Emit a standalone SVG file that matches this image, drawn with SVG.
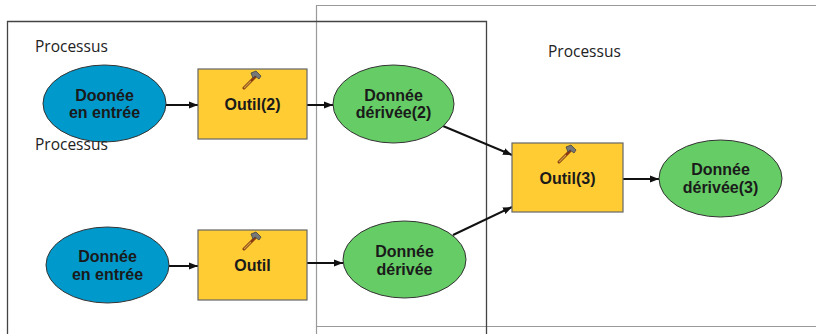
<svg xmlns="http://www.w3.org/2000/svg" width="816" height="334" viewBox="0 0 816 334">
<style>
.frame{fill:none}
.lbl{font-family:"Open Sans","Noto Sans",sans-serif;font-size:15.5px;fill:#222}
.t{font-family:"Liberation Sans",Arial,sans-serif;font-weight:bold;font-size:16px;fill:#1a1a1a;text-anchor:middle}
.in{fill:#0099CC;stroke:#333;stroke-width:1}
.out{fill:#66CC66;stroke:#333;stroke-width:1}
.tool{fill:#FFCC33;stroke:#666;stroke-width:1.2}
.c{stroke:#111;stroke-width:2;fill:none;marker-end:url(#ah)}
</style>
<defs>
<marker id="ah" viewBox="0 0 10 10" refX="10" refY="5" markerWidth="4.5" markerHeight="4.5" markerUnits="strokeWidth" orient="auto">
<path d="M0,1 L10,5 L0,9 z" fill="#111"/>
</marker>
<g id="hammer">
<line x1="-8" y1="8" x2="3" y2="-3" stroke="#8a3a10" stroke-width="3" stroke-linecap="round"/>
<line x1="-8" y1="8" x2="-1" y2="1" stroke="#c8a040" stroke-width="1.2"/>
<path d="M-1,-7 L4,-9 L9,-4 L7,-1 L3,-4 L1,-2 Z" fill="#777" stroke="#444" stroke-width="0.8"/>
</g>
</defs>
<rect width="816" height="334" fill="#fff"/>
<g id="frames">
<path class="frame" d="M316.5,340 V5.5 H820 M316.5,326.5 H820" stroke="#9a9a9a" stroke-width="1.2"/>
<path class="frame" d="M7.5,340 V21.5 H486.5 V340" stroke="#444" stroke-width="1.3"/>
</g>
<g id="connectors">
<line class="c" x1="166" y1="105" x2="198" y2="105"/>
<line class="c" x1="307" y1="105" x2="333" y2="105"/>
<line class="c" x1="169" y1="266" x2="198" y2="266"/>
<line class="c" x1="307" y1="263" x2="343" y2="263"/>
<line class="c" x1="443" y1="126" x2="512" y2="155"/>
<line class="c" x1="453" y1="235" x2="512" y2="207"/>
<line class="c" x1="623" y1="179" x2="659" y2="179"/>
</g>
<g id="n-input2">
<ellipse class="in" cx="104.5" cy="103.5" rx="61.5" ry="38.5"/>
<text class="t" x="104.5" y="101">Doonée</text>
<text class="t" x="104.5" y="118">en entrée</text>
</g>
<g id="n-tool2">
<rect class="tool" x="198" y="69" width="109" height="70"/>
<use href="#hammer" x="252" y="80"/>
<text class="t" x="252.5" y="110">Outil(2)</text>
</g>
<g id="n-derived2">
<ellipse class="out" cx="393.5" cy="104" rx="60.5" ry="39"/>
<text class="t" x="393.5" y="101">Donnée</text>
<text class="t" x="393.5" y="118">dérivée(2)</text>
</g>
<g id="n-input">
<ellipse class="in" cx="107.5" cy="265" rx="61.5" ry="38"/>
<text class="t" x="107.5" y="262">Donnée</text>
<text class="t" x="107.5" y="280">en entrée</text>
</g>
<g id="n-tool">
<rect class="tool" x="198" y="230" width="109" height="70"/>
<use href="#hammer" x="252" y="241"/>
<text class="t" x="252.5" y="271">Outil</text>
</g>
<g id="n-derived">
<ellipse class="out" cx="404.5" cy="259.5" rx="61.5" ry="38.5"/>
<text class="t" x="404.5" y="257">Donnée</text>
<text class="t" x="404.5" y="275">dérivée</text>
</g>
<g id="n-tool3">
<rect class="tool" x="512" y="143" width="111" height="69"/>
<use href="#hammer" x="567" y="154"/>
<text class="t" x="567.5" y="184">Outil(3)</text>
</g>
<g id="n-derived3">
<ellipse class="out" cx="720.5" cy="178.5" rx="61.5" ry="38.5"/>
<text class="t" x="720.5" y="175">Donnée</text>
<text class="t" x="720.5" y="193">dérivée(3)</text>
</g>
<g id="labels">
<text class="lbl" x="35" y="52">Processus</text>
<text class="lbl" x="35" y="150">Processus</text>
<text class="lbl" x="548" y="57">Processus</text>
</g>
</svg>
